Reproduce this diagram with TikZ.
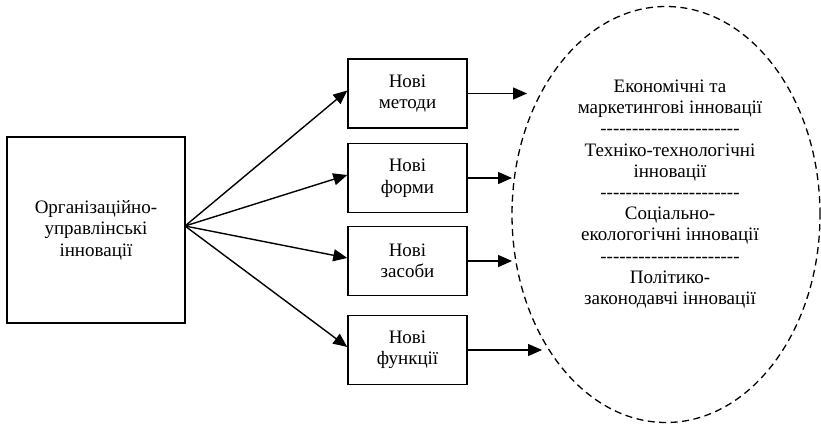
\documentclass[tikz,border=0pt]{standalone}
\usepackage{fontspec}
\setmainfont{Liberation Serif}
\usetikzlibrary{arrows.meta,shapes.geometric}
% a row of separate hyphens (kerns keep the TeX mapping from joining them)
\newcommand\dashrow[1]{\count255=0 \loop\ifnum\count255<#1 -\kern0pt\advance\count255 by 1 \repeat}
\begin{document}
\begin{tikzpicture}[x=1pt,y=-1pt,
  txt/.style={font=\fontsize{19}{21.5}\selectfont, align=center},
  box/.style={txt, draw, line width=1.4pt, inner sep=0pt},
  smallbox/.style={box, minimum width=119pt, minimum height=69pt},
  arr/.style={-{Triangle[length=14pt,width=12pt]}, line width=1.4pt},
  oval/.style={draw, line width=1.3pt, dash pattern=on 7pt off 4.5pt}]
\useasboundingbox (0,0) rectangle (821,425);

% source box
\node[box, minimum width=178pt, minimum height=186pt] (src) at (96,230)
  {Організаційно-\\управлінські\\інновації};

% four intermediate boxes
\node[smallbox] (b1) at (407.5,93.5) {Нові\\методи};
\node[smallbox] (b2) at (407.5,178) {Нові\\форми};
\node[smallbox] (b3) at (407.5,261) {Нові\\засоби};
\node[smallbox] (b4) at (407.5,350) {Нові\\функції};

% dashed oval with the innovation types
\node[oval, ellipse, minimum width=308pt, minimum height=416pt, inner sep=0pt] (ov) at (666,214.5) {};
\node[txt, font=\fontsize{19}{21.2}\selectfont] (types) at (670,194)
  {Економічні та\\маркетингові інновації\\\dashrow{22}\\
   Техніко-технологічні\\інновації\\\dashrow{22}\\
   Соціально-\\екологогічні інновації\\\dashrow{22}\\
   Політико-\\законодавчі інновації};

% fan of arrows from the source box
\coordinate (fan) at (185,226);
\foreach \b in {b1,b2,b3,b4}
  \draw[arr] (fan) -- ([yshift=3pt]\b.west);

% arrows from the boxes towards the oval
\coordinate (t1) at (527,0);
\coordinate (t2) at (512,0);
\coordinate (t3) at (512,0);
\coordinate (t4) at (542,0);
\draw[arr] (b1.east) -- (b1.east -| t1);
\draw[arr] (b2.east) -- (b2.east -| t2);
\draw[arr] (b3.east) -- (b3.east -| t3);
\draw[arr] (b4.east) -- (b4.east -| t4);
\end{tikzpicture}
\end{document}
